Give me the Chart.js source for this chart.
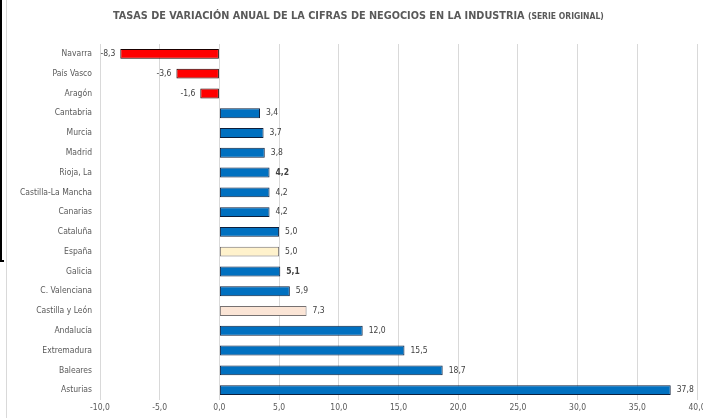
<!DOCTYPE html>
<html>
<head>
<meta charset="utf-8">
<script src="https://cdn.jsdelivr.net/npm/chart.js@4/dist/chart.umd.min.js"></script>
<style>
  html, body { margin: 0; padding: 0; background: #fff; }
  #wrap { position: relative; width: 703px; height: 418px; overflow: hidden; }
  #title { position: absolute; left: 113px; top: 9px; text-align: left;
    font-family: "DejaVu Sans Condensed", sans-serif; font-weight: bold;
    font-size: 10.8px; color: #595959; white-space: nowrap; }
  #title span { font-size: 8.5px; }
  #frame { position: absolute; left: 6px; top: 0; width: 1px; height: 418px; background: #d9d9d9; }
  #blk { position: absolute; left: 0; top: 0; width: 2px; height: 262px; background: #000; }
  #blk2 { position: absolute; left: 0; top: 260px; width: 4px; height: 2px; background: #000; }
  canvas { position: absolute; left: 0; top: 0; }
</style>
</head>
<body>
<div id="wrap">
  <canvas id="c" width="703" height="418"></canvas>
  <div id="frame"></div>
  <div id="blk"></div>
  <div id="blk2"></div>
  <div id="title">TASAS DE VARIACIÓN ANUAL DE LA CIFRAS DE NEGOCIOS EN LA INDUSTRIA <span>(SERIE ORIGINAL)</span></div>
</div>
<script>
const categories = ['Navarra','País Vasco','Aragón','Cantabria','Murcia','Madrid','Rioja, La','Castilla-La Mancha','Canarias','Cataluña','España','Galicia','C. Valenciana','Castilla y León','Andalucía','Extremadura','Baleares','Asturias'];
const values = [-8.3,-3.6,-1.6,3.4,3.7,3.8,4.2,4.2,4.2,5.0,5.0,5.1,5.9,7.3,12.0,15.5,18.7,37.8];
const xTicks = [-10,-5,0,5,10,15,20,25,30,35,40];
const boldLabels = ['Rioja, La','Galicia'];
const nationalCategory = 'España';
const highlightCategory = 'Castilla y León';

const FONT = '"DejaVu Sans Condensed", sans-serif';
const fmt = v => v.toFixed(1).replace('.', ',');

function fillFor(i) {
  const c = categories[i], v = values[i];
  if (c === nationalCategory) return '#FFF2CC';
  if (c === highlightCategory) return '#FBE5D6';
  return v < 0 ? '#FF0000' : '#0070C0';
}
function borderFor(i) {
  const c = categories[i], v = values[i];
  if (c === nationalCategory || c === highlightCategory) return '#767171';
  return v < 0 ? '#1a0000' : '#0d1f3c';
}

const labelPlugin = {
  id: 'valueLabels',
  afterDatasetsDraw(chart) {
    const ctx = chart.ctx;
    const meta = chart.getDatasetMeta(0);
    ctx.save();
    ctx.fillStyle = '#404040';
    ctx.textBaseline = 'middle';
    meta.data.forEach((bar, i) => {
      const v = values[i];
      const bold = boldLabels.includes(categories[i]);
      ctx.font = (bold ? 'bold ' : '') + '8.5px ' + FONT;
      if (v < 0) {
        ctx.textAlign = 'right';
        ctx.fillText(fmt(v), bar.x - 5, bar.y);
      } else {
        ctx.textAlign = 'left';
        ctx.fillText(fmt(v), bar.x + 6, bar.y);
      }
    });
    ctx.restore();
  }
};

new Chart(document.getElementById('c'), {
  type: 'bar',
  data: {
    labels: categories,
    datasets: [{
      data: values,
      backgroundColor: values.map((v, i) => fillFor(i)),
      borderColor: values.map((v, i) => borderFor(i)),
      borderWidth: 1,
      borderSkipped: false,
      categoryPercentage: 1.0,
      barPercentage: 0.5
    }]
  },
  options: {
    indexAxis: 'y',
    responsive: false,
    animation: false,
    devicePixelRatio: 1,
    layout: { padding: { top: 44, right: 6, left: 0, bottom: 0 } },
    plugins: { legend: { display: false }, tooltip: { enabled: false }, title: { display: false } },
    scales: {
      x: {
        min: -10, max: 40,
        afterBuildTicks(s) { s.ticks = xTicks.map(v => ({ value: v })); },
        afterFit(s) { s.height = 18; s.paddingLeft = 0; s.paddingRight = 0; },
        grid: { color: '#d9d9d9', drawTicks: false, lineWidth: 1 },
        border: { display: false },
        ticks: { padding: 3, color: '#595959', font: { family: FONT, size: 8.5 }, callback: v => fmt(v), maxRotation: 0, autoSkip: false }
      },
      y: {
        afterFit(s) { s.width = 100; },
        grid: { display: false, drawTicks: false },
        border: { display: false },
        ticks: { padding: 8, color: '#595959', font: { family: FONT, size: 8.5 }, autoSkip: false }
      }
    }
  },
  plugins: [labelPlugin]
});
</script>
</body>
</html>
